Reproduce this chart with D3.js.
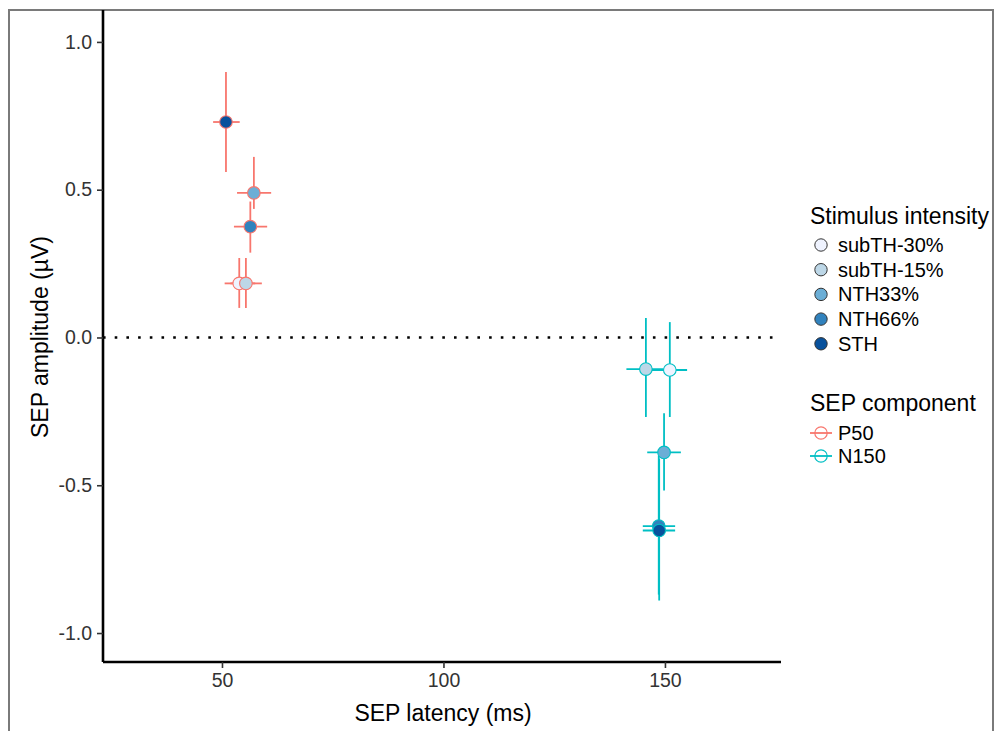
<!DOCTYPE html>
<html><head><meta charset="utf-8">
<script src="https://cdn.jsdelivr.net/npm/d3@7"></script>
<style>body{margin:0;background:#fff}svg{display:block}text{font-family:"Liberation Sans",Arial,sans-serif}</style>
</head><body><svg id="c" width="996" height="731"></svg>
<script>
const intensities = ["subTH-30%","subTH-15%","NTH33%","NTH66%","STH"];
const intensityFills = ["#eff3ff","#bdd7e7","#6baed6","#3182bd","#08519c"];
const components = ["P50","N150"];
const componentColors = ["#F8766D","#00BFC4"];

const p50Latency   = [53.9, 55.4, 57.2, 56.4, 50.9];
const p50LatencyLo = [50.6, 51.9, 53.4, 52.7, 48.0];
const p50LatencyHi = [57.5, 59.0, 61.1, 60.2, 54.0];
const p50Amp   = [0.183, 0.183, 0.489, 0.375, 0.729];
const p50AmpLo = [0.100, 0.100, 0.435, 0.287, 0.560];
const p50AmpHi = [0.269, 0.269, 0.611, 0.460, 0.898];

const n150Latency   = [151.1, 145.7, 149.8, 148.6, 148.7];
const n150LatencyLo = [146.8, 141.3, 146.0, 145.0, 145.0];
const n150LatencyHi = [155.0, 150.0, 153.6, 152.3, 152.3];
const n150Amp   = [-0.110, -0.107, -0.389, -0.638, -0.653];
const n150AmpLo = [-0.269, -0.269, -0.518, -0.870, -0.890];
const n150AmpHi = [0.052, 0.066, -0.256, -0.400, -0.410];

const xTicks = [50, 100, 150];
const yTicks = [-1.0, -0.5, 0.0, 0.5, 1.0];

const svg = d3.select("#c");
const x = d3.scaleLinear().domain([23.14, 176.2]).range([103, 781]);
const y = d3.scaleLinear().domain([-1.098, 1.108]).range([662, 10]);

// frame
svg.append("path").attr("d","M9,740 V10 H993 V740").attr("fill","none").attr("stroke","#7a7a7a").attr("stroke-width",2);

const rows = [];
const sets = [[p50Latency,p50LatencyLo,p50LatencyHi,p50Amp,p50AmpLo,p50AmpHi],[n150Latency,n150LatencyLo,n150LatencyHi,n150Amp,n150AmpLo,n150AmpHi]];
sets.forEach((s,ci)=>{
  intensities.forEach((name,i)=>{
    rows.push({comp:ci, int:i, lat:s[0][i], latLo:s[1][i], latHi:s[2][i], amp:s[3][i], ampLo:s[4][i], ampHi:s[5][i]});
  });
});

// zero line
svg.append("line").attr("x1",x.range()[0]).attr("x2",x.range()[1]).attr("y1",y(0)).attr("y2",y(0))
  .attr("stroke","#000").attr("stroke-width",2.6).attr("stroke-dasharray","2.6 9.1");

// error bars
const g = svg.append("g");
g.selectAll(".v").data(rows).join("line")
  .attr("x1",d=>x(d.lat)).attr("x2",d=>x(d.lat)).attr("y1",d=>y(d.ampLo)).attr("y2",d=>y(d.ampHi))
  .attr("stroke",d=>componentColors[d.comp]).attr("stroke-width",1.8);
g.selectAll(".h").data(rows).join("line")
  .attr("x1",d=>x(d.latLo)).attr("x2",d=>x(d.latHi)).attr("y1",d=>y(d.amp)).attr("y2",d=>y(d.amp))
  .attr("stroke",d=>componentColors[d.comp]).attr("stroke-width",1.8);
// points
g.selectAll("circle").data(rows).join("circle")
  .attr("cx",d=>x(d.lat)).attr("cy",d=>y(d.amp)).attr("r",6.3)
  .attr("fill",d=>intensityFills[d.int]).attr("stroke",d=>componentColors[d.comp]).attr("stroke-width",1.1);

// axes
const xa = svg.append("g").attr("transform","translate(0,662)")
  .call(d3.axisBottom(x).tickValues(xTicks).tickSize(6).tickPadding(5).tickFormat(d3.format("d")));
const ya = svg.append("g").attr("transform","translate(103,0)")
  .call(d3.axisLeft(y).tickValues(yTicks).tickSize(6).tickPadding(5).tickFormat(d=>d3.format(".1f")(d).replace("\u2212","-")));
[xa,ya].forEach(a=>{
  a.select(".domain").attr("stroke","#000").attr("stroke-width",2.6);
  a.selectAll(".tick line").attr("stroke","#333").attr("stroke-width",1.6);
  a.selectAll(".tick text").attr("fill","#333").style("font-size","19.5px");
});
ya.select(".domain").attr("d","M0,662V10");
xa.select(".domain").attr("d","M103,0H781");

// axis titles
svg.append("text").attr("x",443).attr("y",721).attr("text-anchor","middle").style("font-size","23px").attr("fill","#000").text("SEP latency (ms)");
svg.append("text").attr("transform","translate(48,337) rotate(-90)").attr("text-anchor","middle").style("font-size","23px").attr("fill","#000").text("SEP amplitude (µV)");

// legend 1
const lg = svg.append("g");
lg.append("text").attr("x",810).attr("y",224).style("font-size","23px").text("Stimulus intensity");
intensities.forEach((name,i)=>{
  const yy = 245 + i*24.7;
  lg.append("circle").attr("cx",821).attr("cy",yy).attr("r",6.2).attr("fill",intensityFills[i]).attr("stroke","#333").attr("stroke-width",1);
  lg.append("text").attr("x",838).attr("y",yy+7).style("font-size",  "20px").text(name);
});
lg.append("text").attr("x",810).attr("y",411).style("font-size","23px").text("SEP component");
components.forEach((name,i)=>{
  const yy = 433 + i*23;
  lg.append("line").attr("x1",810).attr("x2",832).attr("y1",yy).attr("y2",yy).attr("stroke",componentColors[i]).attr("stroke-width",1.8);
  lg.append("circle").attr("cx",821).attr("cy",yy).attr("r",6.2).attr("fill","none").attr("stroke",componentColors[i]).attr("stroke-width",1.2);
  lg.append("text").attr("x",838).attr("y",yy+7).style("font-size","20px").text(name);
});
</script></body></html>
